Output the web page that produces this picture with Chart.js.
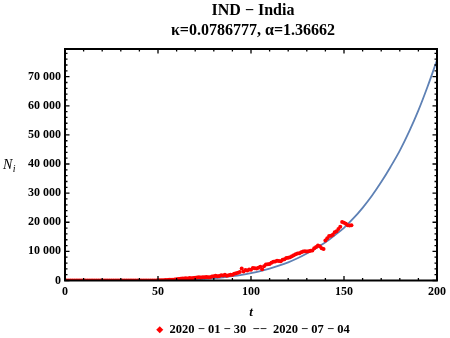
<!DOCTYPE html>
<html>
<head>
<meta charset="utf-8">
<script src="https://cdn.jsdelivr.net/npm/chart.js@4/dist/chart.umd.min.js"></script>
<style>
html,body{margin:0;padding:0;background:#fff;}
#wrap{width:450px;height:338px;position:relative;}
</style>
</head>
<body>
<div id="wrap"><canvas id="c" width="450" height="338"></canvas></div>
<script>
// ---------- data ----------
const titleLines = ['IND \u2212 India', '\u03BA=0.0786777, \u03B1=1.36662'];
const seriesLabel = '2020 \u2212 01 \u2212 30  \u2212\u2212  2020 \u2212 07 \u2212 04';
const xAxisTitle = 't';
const yAxisTitleMain = 'N';
const yAxisTitleSub = 'i';

// observed daily values, t = 0, 1, 2, ... (day index from 2020-01-30)
const observedCases = [
  0,0,0,0,0,0,0,0,0,0,
  0,0,0,0,0,0,0,0,0,0,
  0,0,0,0,0,0,0,0,0,0,
  0,0,0,0,2,0,1,22,2,1,
  3,5,6,10,12,11,14,20,15,23,
  60,80,100,120,150,180,220,260,300,350,
  450,500,600,650,700,750,700,850,800,900,
  950,1000,1100,1000,1150,1100,1200,1150,1150,1350,
  1450,1650,1500,1550,1800,1700,1950,1650,1800,1950,
  1950,2300,2500,2650,2900,4100,3100,3600,3400,3800,
  3700,4300,4200,4100,4350,4700,3900,4900,5500,5600,
  5650,6100,6400,6550,6800,6700,6650,7100,7300,7700,
  7800,8000,8300,8700,9000,9300,9400,9700,10000,10050,
  10000,10050,10200,10300,11100,11500,12000,11800,11100,10800,
  13700,14500,15300,15400,15700,16600,16900,17700,18500,20100,
  19800,19500,19000,18900,19000
];

// fitted curve
const fitT = [0,5,10,15,20,25,30,35,40,45,50,55,60,65,70,75,80,85,90,95,100,
              105,110,115,120,125,130,135,140,145,150,155,160,165,170,175,180,185,190,195,200];
const fitValues = [0,0,0,0,1,2,5,10,20,40,80,130,200,300,430,600,830,1120,1480,1950,2550,
              3250,4100,5100,6250,7650,9300,11100,13100,15500,18100,21300,24950,29100,33800,39000,44600,51100,58400,66700,75700];

const xTickLabels = [0, 50, 100, 150, 200];
const yTickLabels = [0, 10000, 20000, 30000, 40000, 50000, 60000, 70000];
const xMinorStep = 10;
const yMinorStep = 2000;
const xRange = [0, 200];
const yRange = [0, 79500];

// ---------- helpers ----------
const fmtThousands = v => {
  if (v < 10000) return String(v);
  const s = String(v);
  return s.slice(0, s.length - 3) + ' ' + s.slice(-3);
};
const stepValues = (lo, hi, step) => {
  const out = [];
  for (let v = lo; v <= hi; v += step) out.push(v);
  return out;
};

const observedPoints = observedCases.map((v, i) => ({x: i, y: v}));
const fitPoints = fitT.map((t, i) => ({x: t, y: fitValues[i]}));

const SERIF = "'Liberation Serif', 'DejaVu Serif', serif";

const frameTicks = {
  id: 'frameTicks',
  afterDatasetsDraw(chart) {
    const {ctx, chartArea: a, scales: {x, y}} = chart;
    ctx.save();
    ctx.strokeStyle = '#000';
    ctx.lineWidth = 1.3;
    ctx.beginPath();
    x.ticks.forEach(t => {
      const px = x.getPixelForValue(t.value);
      const len = xTickLabels.includes(t.value) ? 4.5 : 2.5;
      ctx.moveTo(px, a.bottom); ctx.lineTo(px, a.bottom - len);
      ctx.moveTo(px, a.top); ctx.lineTo(px, a.top + len);
    });
    y.ticks.forEach(t => {
      const py = y.getPixelForValue(t.value);
      const len = yTickLabels.includes(t.value) ? 4.5 : 2.5;
      ctx.moveTo(a.left, py); ctx.lineTo(a.left + len, py);
      ctx.moveTo(a.right, py); ctx.lineTo(a.right - len, py);
    });
    ctx.stroke();
    ctx.lineWidth = 2;
    ctx.strokeRect(a.left, a.top, a.right - a.left, a.bottom - a.top);
    ctx.restore();
  }
};

const yTitlePlugin = {
  id: 'yTitle',
  afterDraw(chart) {
    const {ctx, chartArea: a} = chart;
    const cy = (a.top + a.bottom) / 2;
    ctx.save();
    ctx.fillStyle = '#000';
    ctx.textBaseline = 'alphabetic';
    ctx.textAlign = 'left';
    ctx.font = "italic 14px " + SERIF;
    ctx.fillText(yAxisTitleMain, 3, cy + 4);
    const w = ctx.measureText(yAxisTitleMain).width;
    ctx.font = "italic 10px " + SERIF;
    ctx.fillText(yAxisTitleSub, 3 + w + 0.5, cy + 7);
    ctx.restore();
  }
};

new Chart(document.getElementById('c'), {
  type: 'scatter',
  data: {
    datasets: [
      {
        label: seriesLabel,
        data: observedPoints,
        showLine: false,
        pointRadius: 2,
        pointHoverRadius: 2,
        pointBorderWidth: 0,
        pointBackgroundColor: '#ff0000',
        backgroundColor: '#ff0000',
        borderColor: '#ff0000',
        pointStyle: 'circle'
      },
      {
        label: 'fit',
        data: fitPoints,
        showLine: true,
        pointRadius: 0,
        borderColor: '#5E81B5',
        borderWidth: 1.8,
        cubicInterpolationMode: 'monotone',
        fill: false
      }
    ]
  },
  options: {
    responsive: false,
    animation: false,
    devicePixelRatio: 1,
    layout: {padding: {left: 20, right: -36, top: 0, bottom: -8}},
    plugins: {
      title: {
        display: true,
        text: titleLines,
        color: '#000',
        font: {family: SERIF, size: 16, weight: 'bold', lineHeight: 1.3},
        padding: {top: 0, bottom: 7.4}
      },
      legend: {
        display: true,
        position: 'bottom',
        labels: {
          filter: item => item.datasetIndex === 0,
          usePointStyle: true,
          pointStyle: 'rectRot',
          boxWidth: 7,
          boxHeight: 5,
          padding: 4,
          color: '#000',
          font: {family: SERIF, size: 12.5, weight: 'bold'}
        }
      },
      tooltip: {enabled: false}
    },
    scales: {
      x: {
        type: 'linear',
        position: 'bottom',
        min: xRange[0],
        max: xRange[1],
        grid: {display: false, drawTicks: false},
        border: {display: false},
        afterBuildTicks: s => { s.ticks = stepValues(xRange[0], xRange[1], xMinorStep).map(v => ({value: v})); },
        ticks: {
          autoSkip: false,
          maxRotation: 0,
          padding: 4,
          color: '#000',
          font: {family: SERIF, size: 12, weight: 'bold'},
          callback: v => xTickLabels.includes(v) ? String(v) : ''
        },
        title: {
          display: true,
          text: xAxisTitle,
          color: '#000',
          font: {family: SERIF, size: 13, weight: 'bold', style: 'italic', lineHeight: 1.2},
          padding: {top: 0, bottom: -1}
        },
        afterFit: s => { s.height = 39; }
      },
      y: {
        type: 'linear',
        position: 'left',
        min: yRange[0],
        max: yRange[1],
        grid: {display: false, drawTicks: false},
        border: {display: false},
        afterBuildTicks: s => { s.ticks = stepValues(yRange[0], yRange[1], yMinorStep).map(v => ({value: v})); },
        ticks: {
          autoSkip: false,
          padding: 4,
          color: '#000',
          font: {family: SERIF, size: 12, weight: 'bold'},
          callback: v => yTickLabels.includes(v) ? fmtThousands(v) : ''
        },
        afterFit: s => { s.width = 45; }
      },
      yRight: {
        type: 'linear',
        position: 'right',
        display: true,
        min: yRange[0],
        max: yRange[1],
        grid: {display: false, drawTicks: false},
        border: {display: false},
        ticks: {display: false},
        afterFit: s => { s.width = 47; }
      }
    }
  },
  plugins: [frameTicks, yTitlePlugin]
});
</script>
</body>
</html>
